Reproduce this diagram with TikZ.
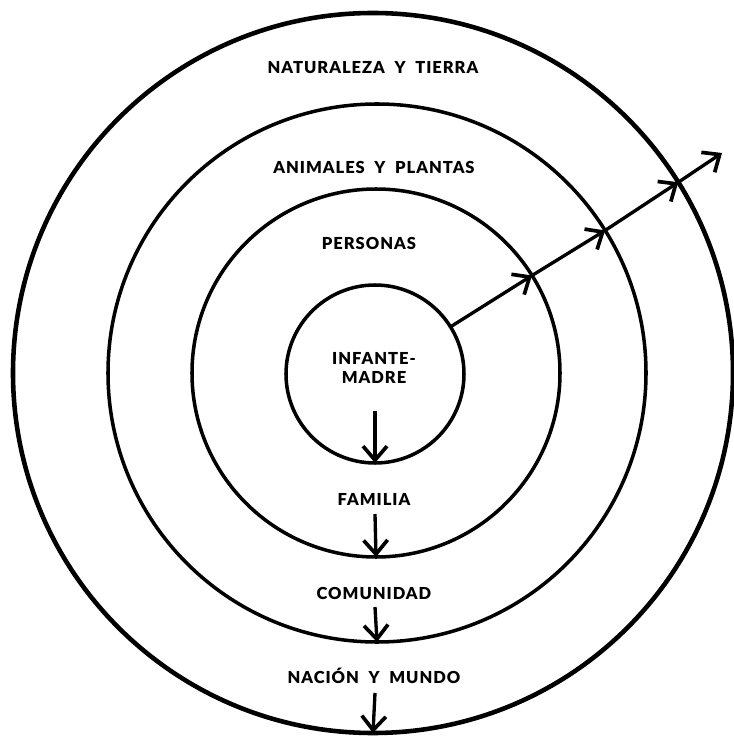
\documentclass[tikz,border=0pt]{standalone}
\usepackage{fontspec}
\setsansfont{Lato}[LetterSpace=6,WordSpace=2,BoldFont={Lato Black}]
\usetikzlibrary{arrows.meta}
\begin{document}
\begin{tikzpicture}[
  ring/.style={draw, circle, line width=2pt, inner sep=0pt, outer sep=0pt},
  lbl/.style={font=\sffamily\bfseries\fontsize{9.4}{11}\selectfont, align=center},
  flow/.style={line width=1.9pt, -{Straight Barb[length=2.8mm, width=4.8mm, line width=2.1pt]}},
]
  \useasboundingbox (-7.46,-7.44) rectangle (7.2,7.46);

  % rings, inner to outer
  \node[ring, minimum size=3.56cm]                    (inf) at (0.04,-0.02) {};
  \node[ring, minimum size=7.36cm]                    (per) at (0.06,0) {};
  \node[ring, minimum size=10.76cm]                   (ani) at (0.08,0) {};
  \node[ring, minimum size=14.4cm, line width=2.6pt] (nat) at (0,0) {};

  % labels
  \node[lbl] (tnat) at (0, 6.1)    {NATURALEZA Y TIERRA};
  \node[lbl] (tani) at (0.02, 4.12) {ANIMALES Y PLANTAS};
  \node[lbl] (tper) at (-0.08, 2.6) {PERSONAS};
  \node[lbl] (tinf) at (0.02, 0.1)  {INFANTE-\\MADRE};
  \node[lbl] (tfam) at (0.02,-2.52) {FAMILIA};
  \node[lbl] (tcom) at (0.02,-4.4)  {COMUNIDAD};
  \node[lbl] (tnac) at (0.02,-6.06) {NACIÓN Y MUNDO};

  % downward arrows
  \coordinate (d1) at (0.04,-0.76);
  \coordinate (d2) at (0.04,-2.82);
  \coordinate (d3) at (0.04,-4.68);
  \coordinate (d4) at (0.04,-6.4);
  \draw[flow] (d1) -- (inf.south);
  \draw[flow] (d2) -- (per.south);
  \draw[flow] (d3) -- (ani.south);
  \draw[flow] (d4) -- (nat.south);

  % outward arrow through the rings
  \coordinate (tip) at (6.98,4.4);
  \draw[flow] (inf.32.4) -- (per.32.4);
  \draw[flow] (per.32.4) -- (ani.32.4);
  \draw[flow] (ani.32.4) -- (nat.32.4);
  \draw[flow] (nat.32.4) -- (tip);
\end{tikzpicture}
\end{document}
